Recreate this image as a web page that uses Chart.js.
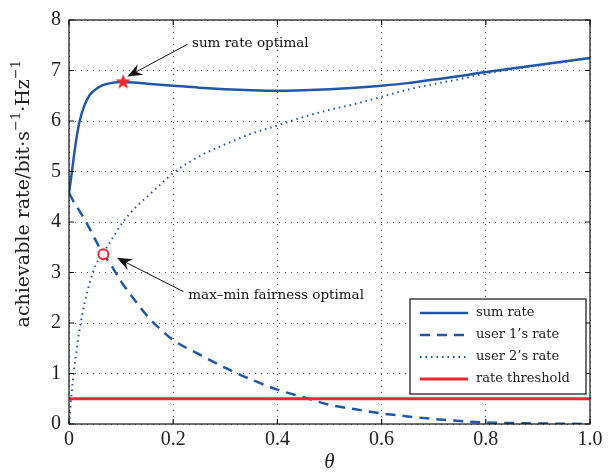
<!DOCTYPE html>
<html>
<head>
<meta charset="utf-8">
<script src="https://cdn.jsdelivr.net/npm/chart.js@4.4.0/dist/chart.umd.min.js"></script>
<style>
html, body { margin: 0; padding: 0; background: #fff; }
#wrap { width: 611px; height: 475px; }
</style>
</head>
<body>
<div id="wrap"><canvas id="c" width="611" height="475"></canvas></div>
<script>
// values
const theta = [0, 0.005, 0.01, 0.015, 0.02, 0.03, 0.04, 0.05, 0.065, 0.08, 0.1, 0.125, 0.15, 0.175, 0.2,
    0.25, 0.3, 0.35, 0.4, 0.45, 0.5, 0.55, 0.6, 0.65, 0.7, 0.75, 0.8, 0.85, 0.9, 0.95, 1.0]
const sumRate = [4.57, 4.95, 5.35, 5.7, 5.98, 6.32, 6.52, 6.62, 6.71, 6.75, 6.77, 6.76, 6.74, 6.72, 6.70,
    6.66, 6.63, 6.61, 6.60, 6.61, 6.63, 6.66, 6.70, 6.75, 6.82, 6.89, 6.97, 7.04, 7.11, 7.18, 7.25]
const user1Rate = [4.57, 4.48, 4.38, 4.30, 4.22, 4.05, 3.86, 3.66, 3.38, 3.16, 2.82, 2.47, 2.14, 1.88, 1.66,
    1.38, 1.11, 0.88, 0.68, 0.53, 0.38, 0.29, 0.21, 0.15, 0.10, 0.06, 0.03, 0.02, 0.01, 0.005, 0.0]
const user2Rate = [0, 0.6, 1.1, 1.5, 1.85, 2.4, 2.8, 3.12, 3.38, 3.62, 3.95, 4.26, 4.5, 4.74, 4.97,
    5.3, 5.54, 5.75, 5.91, 6.08, 6.22, 6.34, 6.48, 6.62, 6.73, 6.83, 6.94, 7.02, 7.10, 7.17, 7.25]
const thresholdTheta = [0, 1]
const thresholdRate = [0.5, 0.5]
const sumOptimal = [{x: 0.104, y: 6.77}]
const fairOptimal = [{x: 0.066, y: 3.36}]
const xTicks = [0, 0.2, 0.4, 0.6, 0.8, 1.0]
const yTicks = [0, 1, 2, 3, 4, 5, 6, 7, 8]

const BLUE = '#2156a8'
const RED = '#ec2a2e'
const SERIF = '"Liberation Serif", "DejaVu Serif", serif'
const WIDE_SERIF = '"DejaVu Serif", "Liberation Serif", serif'

const pts = (xs, ys) => xs.map((x, i) => ({x, y: ys[i]}))

const makeStar = (r, color) => {
    const c = document.createElement('canvas')
    const s = Math.ceil(r * 2 + 2)
    c.width = s; c.height = s
    const g = c.getContext('2d')
    g.fillStyle = color
    g.beginPath()
    for (let i = 0; i < 10; i++) {
        const a = -Math.PI / 2 + i * Math.PI / 5
        const rr = i % 2 ? r * 0.42 : r
        g.lineTo(s / 2 + rr * Math.cos(a), s / 2 + rr * Math.sin(a))
    }
    g.closePath()
    g.fill()
    return c
}

// box + inward ticks like matlab
const framePlugin = {
    id: 'frame',
    afterDatasetsDraw(chart) {
        const {ctx, chartArea: a, scales} = chart
        ctx.save()
        ctx.strokeStyle = '#111'
        ctx.lineWidth = 1.2
        ctx.strokeRect(a.left, a.top, a.right - a.left, a.bottom - a.top)
        ctx.beginPath()
        xTicks.forEach(v => {
            const px = scales.x.getPixelForValue(v)
            ctx.moveTo(px, a.bottom); ctx.lineTo(px, a.bottom - 5)
            ctx.moveTo(px, a.top); ctx.lineTo(px, a.top + 5)
        })
        yTicks.forEach(v => {
            const py = scales.y.getPixelForValue(v)
            ctx.moveTo(a.left, py); ctx.lineTo(a.left + 5, py)
            ctx.moveTo(a.right, py); ctx.lineTo(a.right - 5, py)
        })
        ctx.stroke()
        ctx.restore()
    }
}

const arrow = (ctx, x1, y1, x2, y2) => {
    const ang = Math.atan2(y2 - y1, x2 - x1)
    const L = 15, W = 6, N = 10
    ctx.beginPath()
    ctx.moveTo(x1, y1)
    ctx.lineTo(x2 - N * Math.cos(ang), y2 - N * Math.sin(ang))
    ctx.stroke()
    ctx.beginPath()
    ctx.moveTo(x2, y2)
    ctx.lineTo(x2 - L * Math.cos(ang) + W * Math.sin(ang), y2 - L * Math.sin(ang) - W * Math.cos(ang))
    ctx.lineTo(x2 - N * Math.cos(ang), y2 - N * Math.sin(ang))
    ctx.lineTo(x2 - L * Math.cos(ang) - W * Math.sin(ang), y2 - L * Math.sin(ang) + W * Math.cos(ang))
    ctx.closePath()
    ctx.fill()
}

const notesPlugin = {
    id: 'notes',
    afterDraw(chart) {
        const {ctx, scales: {x, y}, chartArea: a} = chart
        const notes = [
            {text: 'sum rate optimal', at: [0.236, 7.53], from: [0.2275, 7.52], to: [0.112, 6.88]},
            {text: 'max\u2013min fairness optimal', at: [0.229, 2.55], from: [0.22, 2.62], to: [0.092, 3.29]}
        ]
        ctx.save()
        ctx.fillStyle = '#111'
        ctx.strokeStyle = '#111'
        ctx.lineWidth = 1
        ctx.font = '13.5px ' + WIDE_SERIF
        ctx.textBaseline = 'middle'
        notes.forEach(n => {
            arrow(ctx, x.getPixelForValue(n.from[0]), y.getPixelForValue(n.from[1]),
                x.getPixelForValue(n.to[0]), y.getPixelForValue(n.to[1]))
            ctx.fillText(n.text, x.getPixelForValue(n.at[0]), y.getPixelForValue(n.at[1]))
        })

        // y axis title with superscripts
        ctx.save()
        const cy = a.top + (a.bottom - a.top) * 0.43
        ctx.translate(24, cy)
        ctx.rotate(-Math.PI / 2)
        const parts = [['achievable rate/bit\u00b7s', 0], ['\u22121', 1], ['\u00b7Hz', 0], ['\u22121', 1]]
        const big = '19px ' + WIDE_SERIF, small = '13px ' + WIDE_SERIF
        let total = 0
        parts.forEach(([t, s]) => { ctx.font = s ? small : big; total += ctx.measureText(t).width })
        let px = -total / 2
        ctx.fillStyle = '#222'
        parts.forEach(([t, s]) => {
            ctx.font = s ? small : big
            ctx.fillText(t, px, s ? -7 : 0)
            px += ctx.measureText(t).width
        })
        ctx.restore()

        // legend box in lower right
        const w = 176, h = 95
        const bx = a.right - 4 - w, by = a.bottom - 30 - h
        ctx.fillStyle = '#fff'
        ctx.fillRect(bx, by, w, h)
        ctx.strokeStyle = '#111'
        ctx.lineWidth = 1.2
        ctx.strokeRect(bx, by, w, h)
        ctx.font = '13px ' + WIDE_SERIF
        chart.data.datasets.filter(d => d.inLegend).forEach((d, i) => {
            const ly = by + 14 + i * 22
            ctx.save()
            ctx.strokeStyle = d.borderColor
            ctx.lineWidth = d.borderWidth
            ctx.setLineDash(d.borderDash || [])
            ctx.beginPath()
            ctx.moveTo(bx + 10, ly)
            ctx.lineTo(bx + 58, ly)
            ctx.stroke()
            ctx.restore()
            ctx.fillStyle = '#222'
            ctx.fillText(d.label, bx + 66, ly)
        })
        ctx.restore()
    }
}

const tickFont = {family: SERIF, size: 20}

new Chart(document.getElementById('c'), {
    type: 'line',
    data: {
        datasets: [
            {
                label: 'sum optimal', data: sumOptimal, type: 'scatter',
                pointStyle: makeStar(8, RED), pointRadius: 8, order: 0
            },
            {
                label: 'fairness optimal', data: fairOptimal, type: 'scatter',
                pointStyle: 'circle', pointRadius: 5, pointBorderColor: RED, pointBorderWidth: 2,
                pointBackgroundColor: '#fff', order: 0
            },
            {
                label: 'sum rate', data: pts(theta, sumRate), inLegend: true,
                borderColor: BLUE, borderWidth: 2.5, order: 3
            },
            {
                label: 'user 1\u2019s rate', data: pts(theta, user1Rate), inLegend: true,
                borderColor: BLUE, borderWidth: 2.5, borderDash: [10, 7], order: 4
            },
            {
                label: 'user 2\u2019s rate', data: pts(theta, user2Rate), inLegend: true,
                borderColor: BLUE, borderWidth: 2, borderDash: [1.5, 4], order: 5
            },
            {
                label: 'rate threshold', data: pts(thresholdTheta, thresholdRate), inLegend: true,
                borderColor: RED, borderWidth: 3, order: 1
            }
        ]
    },
    options: {
        responsive: false,
        animation: false,
        events: [],
        layout: {padding: {top: 14, right: 21, bottom: 0, left: 0}},
        elements: {
            point: {radius: 0},
            line: {cubicInterpolationMode: 'monotone', fill: false}
        },
        scales: {
            x: {
                type: 'linear', min: 0, max: 1,
                afterFit: s => { s.height = 51 },
                afterBuildTicks: s => { s.ticks = xTicks.map(v => ({value: v})) },
                ticks: {
                    font: tickFont, color: '#222', padding: 4, maxRotation: 0,
                    callback: v => v === 0 ? '0' : v.toFixed(1)
                },
                grid: {color: '#555', lineWidth: 1, drawTicks: false},
                border: {display: false, dash: [1, 5]},
                title: {display: true, text: '\u03b8', font: {family: SERIF, size: 21, style: 'italic'}, color: '#222', padding: {top: 0, bottom: 0}}
            },
            y: {
                min: 0, max: 8,
                afterFit: s => { s.width = 69 },
                afterBuildTicks: s => { s.ticks = yTicks.map(v => ({value: v})) },
                ticks: {font: tickFont, color: '#222', padding: 8},
                grid: {color: '#555', lineWidth: 1, drawTicks: false},
                border: {display: false, dash: [1, 5]}
            }
        },
        plugins: {
            legend: {display: false},
            tooltip: {enabled: false}
        }
    },
    plugins: [framePlugin, notesPlugin]
})
</script>
</body>
</html>
